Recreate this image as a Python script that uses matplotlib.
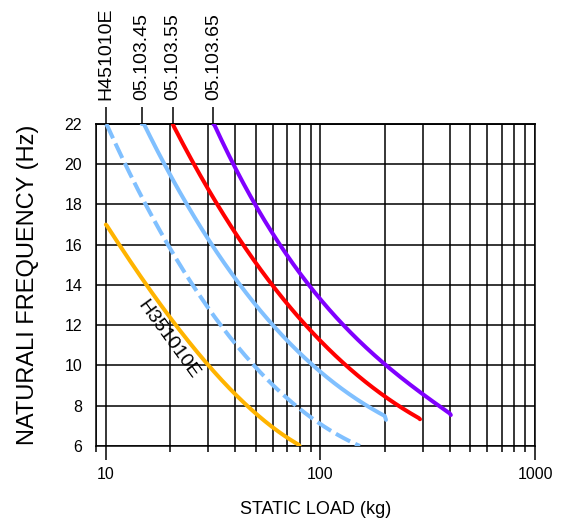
import numpy as np
import matplotlib
matplotlib.use('Agg')
import matplotlib.pyplot as plt
from matplotlib.ticker import NullFormatter, NullLocator, FixedLocator

plt.rcParams['font.family'] = ['Liberation Sans', 'DejaVu Sans']

# curves: static load (kg) -> natural frequency (Hz)
h35_x = [10, 15.8, 20, 24.7, 30.5, 40.5, 52, 70, 80]
h35_y = [17, 14, 12.2, 11.1, 10, 8.45, 7.5, 6.45, 6]

h45_x = [10, 12.5, 15, 19.2, 24.7, 35.3, 48.7, 76, 100, 153]
h45_y = [22, 20, 18.2, 16, 14.1, 12, 10, 8, 7.1, 6]

m45_x = [14.7, 19.3, 24.7, 30.7, 40.8, 58.3, 80, 100, 173, 202]
m45_y = [22, 20, 18, 16, 14, 12, 10.6, 9.9, 8, 7.3]

m55_x = [20.5, 25.6, 33.1, 43.8, 60.4, 83.3, 122, 133, 200, 291]
m55_y = [22, 20, 18, 16, 14, 12, 10.3, 10, 8.5, 7.33]

m65_x = [31.7, 40, 49.6, 62.6, 91, 123.7, 200, 300, 405]
m65_y = [22, 20, 18, 16, 14, 12.2, 9.9, 8.7, 7.54]

top_ticks = [10, 14.7, 20.5, 31.7]
top_labels = ['H451010E', '05.103.45', '05.103.55', '05.103.65']

y_ticks = [6, 8, 10, 12, 14, 16, 18, 20, 22]
x_ticks = [10, 100, 1000]
x_labels = ['10', '100', '1000']


def smooth(xs, ys):
    # smooth the read points a bit (cubic in log x) so the curves are not jagged
    lx = np.log10(xs)
    c = np.polyfit(lx, ys, 3)
    t = np.linspace(lx[0], lx[-1], 200)
    yy = np.polyval(c, t)
    yy[0] = ys[0]
    yy[-1] = ys[-1]
    return 10 ** t, yy


fig = plt.figure(figsize=(5.65, 5.22), dpi=100)
ax = fig.add_axes([0.170, 0.1456, 0.777, 0.6169])
ax.set_xscale('log')
ax.set_xlim(9.0, 1000)
ax.set_ylim(6, 22)

# grid
ax.grid(which='both', axis='x', color='black', lw=1.1)
ax.grid(which='major', axis='y', color='black', lw=1.1)
ax.set_axisbelow(True)
for s in ax.spines.values():
    s.set_color('black')
    s.set_linewidth(1.1)

lw = 2.9
ax.plot(*smooth(h35_x, h35_y), color='#FFB400', lw=lw, solid_capstyle='round', zorder=3)
ax.plot(*smooth(h45_x, h45_y), color='#80C0FF', lw=lw, dashes=(4, 1.4), dash_capstyle='butt', zorder=3)
ax.plot(*smooth(m45_x, m45_y), color='#80C0FF', lw=lw, solid_capstyle='round', zorder=3)
ax.plot(*smooth(m55_x, m55_y), color='#FF0000', lw=lw, solid_capstyle='round', zorder=3)
ax.plot(*smooth(m65_x, m65_y), color='#8000FF', lw=lw, solid_capstyle='round', zorder=3)

ax.text(19.6, 11.27, 'H351010E', fontsize=14, rotation=-54, ha='center', va='center', zorder=4)

# axes ticks
ax.set_yticks(y_ticks)
ax.set_yticklabels([str(v) for v in y_ticks], fontsize=11.5)
ax.tick_params(axis='y', length=0, pad=10)
ax.set_xticks(x_ticks)
ax.set_xticklabels(x_labels, fontsize=11.5)
ax.xaxis.set_minor_formatter(NullFormatter())
ax.tick_params(axis='x', which='major', length=10, width=1.1, direction='out', pad=5)
ax.tick_params(axis='x', which='minor', length=4.5, width=1.1, direction='out')

ax.set_xlabel('STATIC LOAD (kg)', fontsize=13, labelpad=14)
ax.set_ylabel('NATURALI FREQUENCY (Hz)', fontsize=17, labelpad=18)

# model names on top
top = ax.secondary_xaxis('top')
top.xaxis.set_major_locator(FixedLocator(top_ticks))
top.xaxis.set_minor_locator(NullLocator())
top.set_xticklabels(top_labels, rotation=90, fontsize=14)
top.tick_params(axis='x', length=12, width=1.1, pad=5)
top.spines['top'].set_linewidth(1.1)

fig.savefig('out.png', dpi=100)
